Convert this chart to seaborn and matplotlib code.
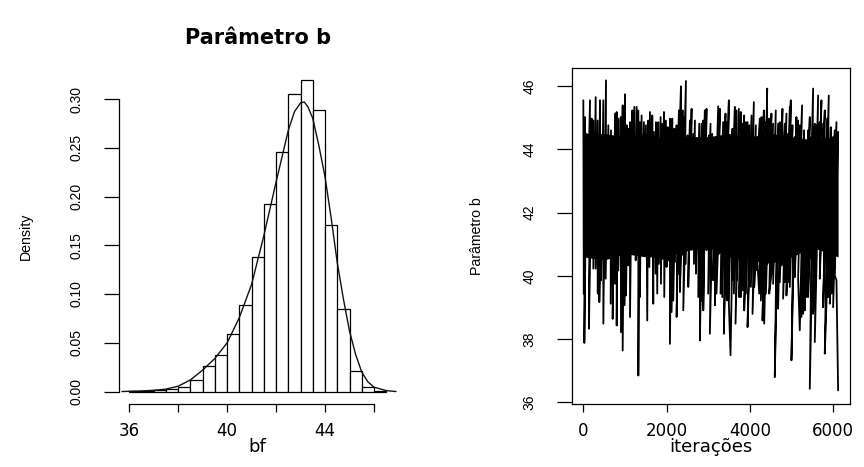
import numpy as np
import pandas as pd
import matplotlib
matplotlib.use("Agg")
import matplotlib.pyplot as plt
import seaborn as sns

# ---------------- data: left panel (histogram, density scale) ----------------
bin_start = [36.0, 36.5, 37.0, 37.5, 38.0, 38.5, 39.0, 39.5, 40.0, 40.5, 41.0,
             41.5, 42.0, 42.5, 43.0, 43.5, 44.0, 44.5, 45.0, 45.5, 46.0]
bin_width = 0.5
densidade = [0.0004, 0.0008, 0.0014, 0.0028, 0.0046, 0.0118, 0.0262, 0.0374,
             0.0587, 0.0884, 0.1375, 0.1928, 0.2460, 0.3050, 0.3190, 0.2890,
             0.1710, 0.0843, 0.0208, 0.0050, 0.0010]

# kernel density curve
curva_x = [35.7, 36.0, 36.5, 37.0, 37.5, 38.0, 38.5, 39.0, 39.5, 40.0, 40.5,
           41.0, 41.5, 42.0, 42.5, 42.75, 43.0, 43.15, 43.3, 43.5, 43.75,
           44.0, 44.25, 44.5, 44.75, 45.0, 45.25, 45.5, 45.75, 46.0, 46.5, 46.9]
curva_y = [0.0, 0.0003, 0.0006, 0.0013, 0.0025, 0.0055, 0.012, 0.022, 0.034,
           0.050, 0.076, 0.110, 0.160, 0.215, 0.268, 0.287, 0.296, 0.297,
           0.292, 0.280, 0.252, 0.220, 0.178, 0.132, 0.095, 0.062, 0.038,
           0.020, 0.010, 0.0045, 0.001, 0.0]

x_ticks_left = [36, 38, 40, 42, 44, 46]
x_ticklabels_left = ["36", "", "40", "", "44", ""]
y_ticks_left = [0.00, 0.05, 0.10, 0.15, 0.20, 0.25, 0.30]

# ---------------- data: right panel (trace of the chain) ----------------
# upper spike tips (iteration, value)
iter_sup = [1, 41, 81, 161, 201, 241, 297, 345, 401, 441, 481, 545, 601, 665,
            721, 761, 801, 841, 897, 945, 1001, 1041, 1081, 1121, 1177, 1225,
            1281, 1321,
            1359, 1399, 1455, 1503, 1559, 1599, 1655, 1695, 1743, 1799, 1855,
            1903, 1935, 1983, 2023, 2079, 2135, 2183, 2239, 2295, 2343, 2383,
            2423, 2463, 2503, 2559, 2599, 2639, 2679, 2735, 2783, 2839, 2879,
            2917, 2957, 3013, 3053, 3093, 3141, 3197, 3237, 3277, 3317, 3357,
            3413, 3453, 3493, 3541, 3581, 3637, 3677, 3733, 3781, 3821, 3861,
            3901, 3941, 3981, 4037, 4093, 4141, 4197, 4237, 4277, 4333, 4381,
            4413, 4453,
            4515, 4555, 4619, 4675, 4715, 4779, 4835, 4875, 4915, 4955, 4979,
            5019, 5075, 5115, 5155, 5195, 5251, 5299, 5355, 5395, 5435, 5475,
            5515, 5555, 5595, 5635, 5675, 5715, 5755, 5795, 5851, 5891, 5939,
            5995, 6035, 6075, 6115]
valor_sup = [45.55, 45.02, 44.49, 45.55, 44.97, 44.91, 45.65, 44.91, 45.55,
             44.34, 45.55, 46.18, 44.76, 44.60, 44.34, 45.13, 45.18, 44.97,
             45.02, 45.39, 45.74, 44.76, 44.65, 44.86, 45.23, 45.34, 45.34,
             45.23,
             44.86, 45.07, 44.86, 44.76, 44.91, 45.18, 45.07, 44.55, 44.86,
             44.86, 45.02, 44.81, 45.18, 44.91, 44.70, 44.97, 44.97, 44.65,
             44.76, 45.23, 45.99, 45.23, 45.02, 46.16, 44.44, 44.91, 45.28,
             44.49, 44.91, 44.23, 44.81, 44.81, 44.91,
             45.23, 45.28, 44.44, 44.81, 44.49, 44.18, 44.39, 45.36, 45.28,
             44.39, 44.86, 45.13, 44.86, 45.55, 44.39, 44.65, 45.34, 45.23,
             45.28, 45.18, 44.81, 45.07, 44.86, 44.86, 44.76, 45.07, 45.49,
             44.76, 44.39, 44.97, 45.02, 45.23, 44.86, 45.92, 44.97,
             45.13, 44.81, 45.23, 44.81, 44.86, 45.28, 44.81, 45.13, 44.49,
             45.34, 45.55, 44.76, 44.39, 45.02, 44.91, 44.76, 45.39, 44.60,
             44.12, 44.60, 45.02, 44.39, 45.92, 44.81, 44.76, 45.70, 44.86,
             45.55, 44.81, 45.23, 44.97, 45.70, 44.70, 44.39, 44.60, 44.86,
             44.55]
# lower spike tips (iteration, value)
iter_inf = [12, 25, 81, 137, 185, 241, 297, 345, 385, 425, 481, 537, 601, 657,
            705, 761, 801, 841, 905, 945, 985, 1025, 1081, 1121, 1161, 1209,
            1257, 1321,
            1359, 1423, 1479, 1535, 1583, 1639, 1679, 1735, 1775, 1815, 1863,
            1903, 1943, 1999, 2039, 2079, 2119, 2159, 2199, 2239, 2287, 2319,
            2359, 2399, 2455, 2519, 2559, 2615, 2655, 2703, 2759, 2799, 2839,
            2879,
            2917, 2957, 2997, 3037, 3077, 3117, 3157, 3197, 3253, 3293, 3333,
            3373, 3413, 3453, 3493, 3533, 3573, 3613, 3653, 3693, 3741, 3781,
            3821, 3861, 3901, 3941, 3981, 4021, 4061, 4101, 4141, 4181, 4221,
            4261, 4301, 4341, 4381, 4421, 4461,
            4515, 4555, 4595, 4635, 4675, 4715, 4755, 4795, 4835, 4875, 4915,
            4955, 4995, 5035, 5075, 5115, 5155, 5195, 5235, 5275, 5315, 5355,
            5395, 5435, 5475, 5515, 5555, 5595, 5635, 5675, 5715, 5755, 5795,
            5835, 5875, 5915, 5955, 5995, 6035, 6075, 6115]
valor_inf = [39.44, 37.88, 40.65, 38.33, 40.91, 40.23, 40.23, 39.44, 39.17,
             39.86, 38.49, 39.91, 40.75, 39.12, 38.64, 39.75, 38.43, 40.17,
             38.22, 37.64, 39.07, 39.38, 40.33, 38.70, 40.96, 40.86, 40.49,
             36.85,
             39.33, 40.91, 40.91, 38.59, 40.28, 41.07, 39.12, 40.07, 39.44,
             40.38, 39.75, 40.54, 39.33, 40.28, 40.49, 37.85, 38.86, 39.22,
             40.44, 38.70, 40.07, 39.49, 40.65, 38.91, 40.38, 39.65, 41.02,
             41.12, 40.38, 40.07, 39.33, 37.96, 39.22, 38.91,
             41.96, 40.81, 39.44, 38.17, 41.17, 39.86, 39.07, 39.44, 40.70,
             39.44, 39.33, 38.17, 39.49, 39.22, 39.12, 37.49, 39.86, 39.44,
             38.49, 39.86, 39.33, 39.33, 39.54, 38.91, 39.44, 38.38, 40.07,
             39.65, 38.80, 39.65, 40.17, 40.38, 39.44, 39.22, 38.59, 38.49,
             39.44, 40.38, 39.44,
             40.07, 39.75, 36.80, 39.07, 38.96, 39.80, 40.33, 39.28, 39.80,
             39.38, 39.80, 39.65, 37.33, 39.86, 39.96, 40.70, 39.91, 38.28,
             38.70, 38.80, 38.91, 39.33, 39.33, 36.43, 40.54, 38.80, 37.91,
             40.91, 41.02, 39.91, 41.28, 39.01, 37.54, 39.12, 39.33, 39.12,
             39.44, 39.01, 40.01, 39.86, 36.38]
# solid core of the trace (where the ~6000 draws leave no white gaps)
faixa_iter = [1, 500, 1000, 1500, 2000, 2500, 3000, 3500, 4000, 4500, 5000,
              5500, 6115]
faixa_sup = [44.5, 44.5, 44.4, 44.5, 44.3, 44.4, 44.4, 44.5, 44.4, 44.5, 44.4,
             44.3, 44.4]
faixa_inf = [40.6, 40.5, 40.7, 40.6, 40.6, 40.8, 40.9, 40.6, 40.5, 40.4, 40.6,
             40.9, 40.6]

x_ticks_right = [0, 2000, 4000, 6000]
y_ticks_right = [36, 38, 40, 42, 44, 46]

titulo = "Parâmetro b"
xlabel_left = "bf"
ylabel_left = "Density"
xlabel_right = "iterações"
ylabel_right = "Parâmetro b"

# ---------------- styling ----------------
sns.set_style("white")
plt.rcParams["font.family"] = ["DejaVu Sans"]
plt.rcParams["axes.linewidth"] = 0.9
plt.rcParams["text.color"] = "black"
plt.rcParams["axes.labelcolor"] = "black"
plt.rcParams["xtick.color"] = "black"
plt.rcParams["ytick.color"] = "black"

W, H = 864, 467
fig = plt.figure(figsize=(W / 100, H / 100), dpi=100)
ax1 = fig.add_axes([119 / W, 63 / H, 277.5 / W, 336 / H])
ax2 = fig.add_axes([572 / W, 63 / H, 278 / W, 336.3 / H])

LW = 0.9
rot_font = "Liberation Sans"

# ---- left: histogram + density ----
hist_df = pd.DataFrame({"bf": [s + bin_width / 2 for s in bin_start],
                        "dens": densidade})
edges = bin_start + [bin_start[-1] + bin_width]
sns.histplot(data=hist_df, x="bf", weights="dens", bins=edges, stat="count",
             color="white", edgecolor="black", linewidth=LW, alpha=1,
             ax=ax1)
curve_df = pd.DataFrame({"x": curva_x, "y": curva_y})
sns.lineplot(data=curve_df, x="x", y="y", color="#111111", lw=1.0,
             sort=False, estimator=None, ax=ax1)

ax1.set_xlim(35.58, 46.92)
ax1.set_ylim(-0.01276, 0.3318)
for s in ["top", "right"]:
    ax1.spines[s].set_visible(False)
ax1.spines["left"].set_bounds(0, 0.30)
ax1.spines["bottom"].set_bounds(36, 46)
ax1.set_xticks(x_ticks_left)
ax1.set_xticklabels(x_ticklabels_left)
ax1.set_yticks(y_ticks_left)
ax1.set_yticklabels([f"{v:.2f}" for v in y_ticks_left])
ax1.set_title(titulo, fontweight="bold", fontsize=15, y=1.089, va="center",
              pad=0, color="black")

# ---- right: trace ----
# order the spike tips by iteration, alternating high/low tips where the
# next opposite tip is close, so the chain zig-zags through the band
pts = pd.concat([
    pd.DataFrame({"iter": iter_sup, "valor": valor_sup, "tipo": "sup"}),
    pd.DataFrame({"iter": iter_inf, "valor": valor_inf, "tipo": "inf"}),
]).sort_values("iter", kind="mergesort").to_dict("records")
ordem = [pts.pop(0)]
while pts:
    quero = "inf" if ordem[-1]["tipo"] == "sup" else "sup"
    k_pick = 0
    for k, r in enumerate(pts[:5]):
        if r["tipo"] == quero and r["iter"] - pts[0]["iter"] <= 100:
            k_pick = k
            break
    ordem.append(pts.pop(k_pick))
trace_df = pd.DataFrame(ordem)
ax2.fill_between(faixa_iter, faixa_inf, faixa_sup, color="black", lw=0,
                 zorder=1)
sns.lineplot(data=trace_df, x="iter", y="valor", color="black", lw=1.3,
             sort=False, estimator=None, ax=ax2, zorder=2)
ax2.set_xlim(-271, 6400)
ax2.set_ylim(35.95, 46.58)
ax2.set_xticks(x_ticks_right)
ax2.set_xticklabels([str(v) for v in x_ticks_right])
ax2.set_yticks(y_ticks_right)
ax2.set_yticklabels([str(v) for v in y_ticks_right])

for ax, xl, yl in [(ax1, xlabel_left, ylabel_left),
                   (ax2, xlabel_right, ylabel_right)]:
    for s in ax.spines.values():
        s.set_linewidth(LW)
        s.set_color("black")
    ax.tick_params(axis="x", direction="out", length=5.8, width=LW,
                   pad=7, labelsize=12, colors="black", bottom=True)
    ax.tick_params(axis="y", direction="out", length=10.8, width=LW,
                   pad=15, labelsize=10, colors="black", left=True,
                   labelrotation=90)
    for t in ax.get_yticklabels():
        t.set_family(rot_font)
        t.set_va("center")
    ax.set_xlabel(xl, fontsize=13, color="black")
    ax.set_ylabel(yl, fontsize=10.2, family=rot_font, color="black")
    ax.xaxis.label.set_va("center")
    ax.yaxis.label.set_va("center")
    ax.xaxis.set_label_coords(0.5, (404 - 447) / 336)

ax1.yaxis.set_label_coords((26 - 119) / 277.5, 0.5)
ax2.yaxis.set_label_coords((477 - 572) / 278, 0.5)

fig.savefig("out.png", dpi=100, facecolor="white")
